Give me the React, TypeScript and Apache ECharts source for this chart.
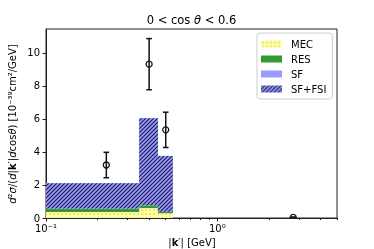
import React, { useEffect, useRef } from "react";
import * as echarts from "echarts";

// ---- data ----
const binEdges = [0.1, 0.35, 0.45, 0.55, 5];
const mecValues = [0.37, 0.6, 0.29, 0];
const resValues = [0.2, 0.17, 0.09, 0];
const sfFsiTotal = [2.1, 6.05, 3.76, 0];
const pointX = [0.225, 0.4, 0.5, 2.775];
const pointY = [3.21, 9.32, 5.34, 0.04];
const pointErr = [0.77, 1.55, 1.07, 0.02];
const xMajorTicks = [0.1, 1];
const xMinorTicks = [0.2, 0.3, 0.4, 0.5, 0.6, 0.7, 0.8, 0.9, 2, 3, 4, 5];
const yTicks = [0, 2, 4, 6, 8, 10];
const legendNames = ["MEC", "RES", "SF", "SF+FSI"];

const FONT = "DejaVu Sans";

function makeHatch(): HTMLCanvasElement {
  const s = 4;
  const c = document.createElement("canvas");
  c.width = s;
  c.height = s;
  const ctx = c.getContext("2d")!;
  ctx.fillStyle = "#9999ff";
  ctx.fillRect(0, 0, s, s);
  ctx.strokeStyle = "#1c1c48";
  ctx.lineWidth = 1.1;
  ctx.beginPath();
  ctx.moveTo(-1, s + 1);
  ctx.lineTo(s + 1, -1);
  ctx.moveTo(-1, 1);
  ctx.lineTo(1, -1);
  ctx.moveTo(s - 1, s + 1);
  ctx.lineTo(s + 1, s - 1);
  ctx.stroke();
  return c;
}

function makeDots(): HTMLCanvasElement {
  const s = 4;
  const c = document.createElement("canvas");
  c.width = s;
  c.height = s;
  const ctx = c.getContext("2d")!;
  ctx.fillStyle = "#ffff99";
  ctx.fillRect(0, 0, s, s);
  ctx.fillStyle = "#b4b48a";
  ctx.fillRect(1.5, 1.5, 1.2, 1.2);
  return c;
}

function stepSeries(name: string, bottoms: number[], tops: number[], fill: any) {
  const data = tops.map((t, i) => [binEdges[i], binEdges[i + 1], bottoms[i], t]);
  return {
    type: "custom",
    name,
    clip: true,
    itemStyle: { color: fill },
    encode: { x: [0, 1], y: [2, 3] },
    data,
    renderItem: (params: any, api: any) => {
      const b = api.value(2);
      const t = api.value(3);
      if (t <= b) return null;
      const p0 = api.coord([api.value(0), b]);
      const p1 = api.coord([api.value(1), t]);
      return {
        type: "rect",
        shape: { x: p0[0], y: p1[1], width: p1[0] - p0[0], height: p0[1] - p1[1] },
        style: { fill },
      };
    },
  };
}

export default function App() {
  const ref = useRef<HTMLDivElement>(null);
  useEffect(() => {
    if (!ref.current) return;
    const chart = echarts.init(ref.current, undefined, { renderer: "svg" });
    const hatch = { image: makeHatch(), repeat: "repeat" };
    const dots = { image: makeDots(), repeat: "repeat" };

    const mecTop = mecValues.slice();
    const resTop = mecValues.map((m, i) => m + resValues[i]);
    const zeros = mecValues.map(() => 0);

    const grid = { left: 46, right: 37, top: 29, bottom: 31 };
    const plotH = 249 - grid.top - grid.bottom;

    const option: any = {
      animation: false,
      textStyle: { fontFamily: FONT },
      grid: { ...grid, show: true, borderColor: "#222", borderWidth: 1, backgroundColor: "transparent" },
      xAxis: [
        {
          type: "log",
          min: 0.1,
          max: 5,
          axisLine: { show: true, lineStyle: { color: "#222", width: 1 } },
          axisTick: { show: true, length: 3.5, customValues: xMajorTicks, lineStyle: { color: "#222" } },
          axisLabel: {
            customValues: xMajorTicks,
            fontSize: 10,
            color: "#000",
            fontFamily: FONT,
            margin: 5,
            formatter: (v: number) => {
              const e = Math.round(Math.log10(v));
              return e === -1 ? "10⁻¹" : e === 0 ? "10⁰" : "";
            },
          },
          splitLine: { show: false },
          minorTick: { show: false },
        },
        {
          type: "log",
          min: 0.1,
          max: 5,
          position: "top",
          offset: -plotH,
          axisLine: { show: false },
          axisTick: { show: true, inside: true, length: 2, customValues: xMinorTicks, lineStyle: { color: "#222" } },
          axisLabel: { show: false },
          splitLine: { show: false },
        },
      ],
      yAxis: {
        type: "value",
        min: 0,
        max: 11.45,
        axisLine: { show: true, lineStyle: { color: "#222", width: 1 } },
        axisTick: { show: true, length: 3.5, customValues: yTicks, lineStyle: { color: "#222" } },
        axisLabel: { customValues: yTicks, fontSize: 10, color: "#000", fontFamily: FONT, margin: 6 },
        splitLine: { show: false },
      },
      legend: {
        orient: "vertical",
        left: 257,
        top: 33,
        data: legendNames,
        icon: "rect",
        itemWidth: 21,
        itemHeight: 7,
        itemGap: 3,
        padding: [5, 6, 4, 4],
        borderColor: "#cccccc",
        borderWidth: 1,
        borderRadius: 3,
        backgroundColor: "rgba(255,255,255,0.8)",
        selectedMode: false,
        textStyle: { fontSize: 10, fontFamily: FONT, color: "#000", lineHeight: 12, padding: [0, 0, 0, 4] },
      },
      series: [
        stepSeries("MEC", zeros, mecTop, dots),
        stepSeries("RES", mecTop, resTop, "#339933"),
        stepSeries("SF", resTop, sfFsiTotal, "#9999ff"),
        stepSeries("SF+FSI", resTop, sfFsiTotal, hatch),
        {
          type: "custom",
          name: "data",
          clip: true,
          encode: { x: 0, y: 1 },
          data: pointX.map((x, i) => [x, pointY[i], pointErr[i]]),
          renderItem: (params: any, api: any) => {
            const x = api.value(0);
            const y = api.value(1);
            const e = api.value(2);
            const c = api.coord([x, y]);
            const t = api.coord([x, y + e]);
            const b = api.coord([x, y - e]);
            const st = { stroke: "#111", lineWidth: 1.5, fill: "none" };
            const cw = 2.8;
            return {
              type: "group",
              children: [
                { type: "line", shape: { x1: c[0], y1: t[1], x2: c[0], y2: b[1] }, style: st },
                { type: "line", shape: { x1: c[0] - cw, y1: t[1], x2: c[0] + cw, y2: t[1] }, style: st },
                { type: "line", shape: { x1: c[0] - cw, y1: b[1], x2: c[0] + cw, y2: b[1] }, style: st },
                { type: "circle", shape: { cx: c[0], cy: c[1], r: 3 }, style: { stroke: "#111", lineWidth: 1.3, fill: "none" } },
              ],
            };
          },
        },
      ],
      graphic: [
        {
          type: "text",
          x: 191.5,
          y: 20,
          style: {
            text: "0 < cos {i|θ} < 0.6",
            fontSize: 11.5,
            fontFamily: FONT,
            fill: "#000",
            align: "center",
            verticalAlign: "middle",
            rich: { i: { fontStyle: "italic", fontSize: 11.5, fontFamily: FONT, fill: "#000" } },
          },
        },
        {
          type: "text",
          x: 192,
          y: 242,
          style: {
            text: "|{b|k}′| [GeV]",
            fontSize: 10,
            fontFamily: FONT,
            fill: "#000",
            align: "center",
            verticalAlign: "middle",
            rich: { b: { fontWeight: "bold", fontSize: 10, fontFamily: FONT, fill: "#000" } },
          },
        },
        {
          type: "text",
          x: 12,
          y: 124,
          rotation: Math.PI / 2,
          style: {
            text: "{i|d}²{i|σ}/({i|d}|{b|k}′|{i|d}cos{i|θ}) [10⁻³⁹cm²/GeV]",
            fontSize: 10,
            fontFamily: FONT,
            fill: "#000",
            align: "center",
            verticalAlign: "middle",
            rich: {
              i: { fontStyle: "italic", fontSize: 10, fontFamily: FONT, fill: "#000" },
              b: { fontWeight: "bold", fontSize: 10, fontFamily: FONT, fill: "#000" },
            },
          },
        },
      ],
    };
    chart.setOption(option);
    return () => chart.dispose();
  }, []);
  return <div ref={ref} style={{ position: "fixed", left: 0, top: 0, width: 374, height: 249 }} />;
}
